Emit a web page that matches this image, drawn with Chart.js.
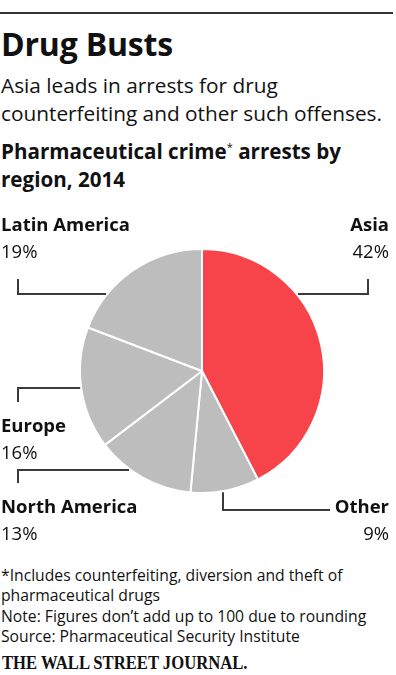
<!DOCTYPE html>
<html>
<head>
<meta charset="utf-8">
<script src="https://cdn.jsdelivr.net/npm/chart.js@4/dist/chart.umd.min.js"></script>
<style>
  body { margin: 0; background: #fff; width: 396px; height: 675px; position: relative; overflow: hidden; font-family: "Open Sans", "Noto Sans", sans-serif; color: #111; }
  .t { position: absolute; white-space: nowrap; }
  #rule { position: absolute; left: 0; top: 12px; width: 393px; height: 2px; background: #333; }
  #title { left: 1px; top: 29px; font-size: 32px; line-height: 30px; font-weight: 700; letter-spacing: -0.2px; }
  #sub { left: 1px; top: 71px; font-size: 20.8px; line-height: 28px; }
  #ctitle { left: 1px; top: 137px; font-size: 20.6px; line-height: 28px; font-weight: 700; }
  .lab { font-size: 18.5px; line-height: 27px; }
  .lab b { font-weight: 700; }
  .r { text-align: right; right: 7px; }
  #notes { left: 1px; top: 565px; font-size: 15.7px; line-height: 20.4px; }
  #wsj { left: 2px; top: 654px; font-family: "Liberation Serif", "DejaVu Serif", serif; font-size: 18.5px; line-height: 19px; font-weight: 700; transform: scaleX(0.9); transform-origin: 0 0; }
  #c { position: absolute; left: 0; top: 200px; }
</style>
</head>
<body>
<div id="rule"></div>
<div class="t" id="title">Drug Busts</div>
<div class="t" id="sub">Asia leads in arrests for drug<br>counterfeiting and other such offenses.</div>
<div class="t" id="ctitle">Pharmaceutical crime<sup style="font-size:11px;font-weight:400;vertical-align:8px;line-height:0">*</sup> arrests by<br>region, 2014</div>
<canvas id="c" width="396" height="345"></canvas>
<div class="t lab" style="left:1px;top:210px"><b>Latin America</b><br>19%</div>
<div class="t lab r" style="top:210px"><b>Asia</b><br>42%</div>
<div class="t lab" style="left:1px;top:411px"><b>Europe</b><br>16%</div>
<div class="t lab" style="left:1px;top:492px"><b>North America</b><br>13%</div>
<div class="t lab r" style="top:492px"><b>Other</b><br>9%</div>
<div class="t" id="notes">*Includes counterfeiting, diversion and theft of<br>pharmaceutical drugs<br>Note: Figures don’t add up to 100 due to rounding<br>Source: Pharmaceutical Security Institute</div>
<div class="t" id="wsj">THE WALL STREET JOURNAL.</div>
<script>
// data, clockwise from 12 o'clock
const regions = ["Asia", "Other", "North America", "Europe", "Latin America"];
const shares = [42, 9, 13, 16, 19];
const sliceColors = ["#f7434a", "#bdbdbd", "#bdbdbd", "#bdbdbd", "#bdbdbd"];

// leader lines, in canvas pixels (canvas sits 200px down the page)
// kind "h": horizontal at y from the pie edge to the x of a short vertical tick
// kind "v": vertical at x from the pie edge down to y, then horizontal to x2
const leaders = [
  { kind: "h", side: -1, y: 94, tickX: 18, tickY: 79 },
  { kind: "h", side: 1, y: 94, tickX: 368, tickY: 79 },
  { kind: "h", side: -1, y: 188, tickX: 18, tickY: 202 },
  { kind: "h", side: -1, y: 270, tickX: 18, tickY: 283 },
  { kind: "v", x: 223, y: 310, x2: 330 },
];

const leaderPlugin = {
  id: "leaders",
  afterDraw(chart) {
    const arc = chart.getDatasetMeta(0).data[0];
    const cx = arc.x, cy = arc.y, r = arc.outerRadius + 1;
    const ctx = chart.ctx;
    ctx.save();
    ctx.strokeStyle = "#3a3a3a";
    ctx.lineWidth = 2;
    leaders.forEach(l => {
      ctx.beginPath();
      if (l.kind === "h") {
        const edgeX = cx + l.side * Math.sqrt(Math.max(r * r - (l.y - cy) * (l.y - cy), 0));
        ctx.moveTo(edgeX, l.y);
        ctx.lineTo(l.tickX, l.y);
        ctx.lineTo(l.tickX, l.tickY);
      } else {
        const edgeY = cy + Math.sqrt(Math.max(r * r - (l.x - cx) * (l.x - cx), 0));
        ctx.moveTo(l.x, edgeY);
        ctx.lineTo(l.x, l.y);
        ctx.lineTo(l.x2, l.y);
      }
      ctx.stroke();
    });
    ctx.restore();
  }
};

new Chart("c", {
  type: "pie",
  data: {
    labels: regions,
    datasets: [{
      data: shares,
      backgroundColor: sliceColors,
      borderColor: "#ffffff",
      borderWidth: 2,
    }],
  },
  options: {
    responsive: false,
    animation: false,
    layout: { padding: { left: 79, right: 71, top: 48, bottom: 51 } },
    plugins: {
      legend: { display: false },
      tooltip: { enabled: false },
    },
  },
  plugins: [leaderPlugin],
});
</script>
</body>
</html>
